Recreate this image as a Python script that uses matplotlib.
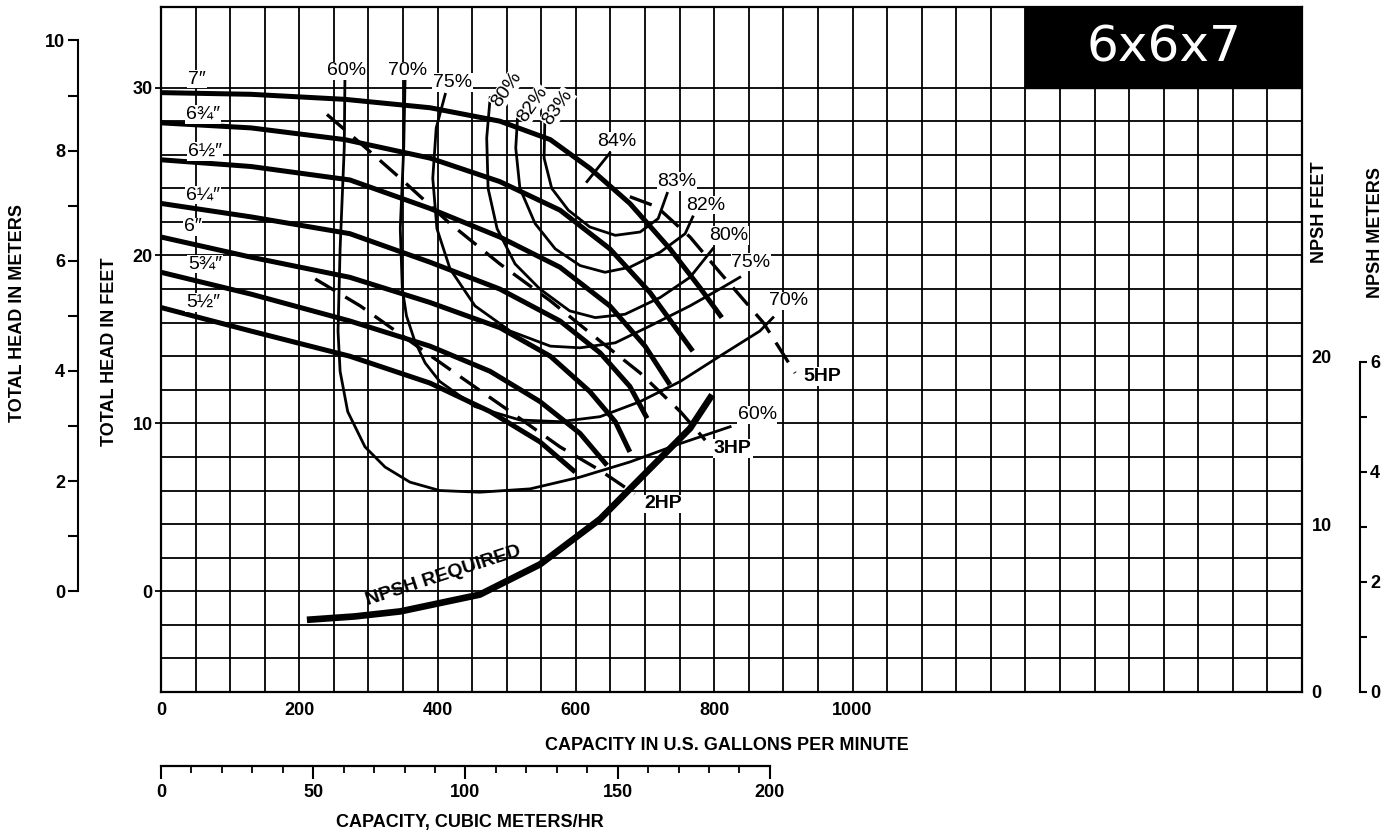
import numpy as np
import matplotlib
matplotlib.use("Agg")
import matplotlib.pyplot as plt
from matplotlib.patches import Rectangle

plt.rcParams['font.family'] = ['Liberation Sans', 'DejaVu Sans']

GPM_TO_M3H = 0.227125
FT_PER_M = 3.2808
X_MAX = 1650
Y_MIN, Y_MAX = -6, 34.8

# impeller head curves: capacity (gpm) / total head (ft)
q_700 = [0, 130, 266, 389, 490, 563, 620, 678, 736, 779, 811]
h_700 = [29.7, 29.6, 29.3, 28.8, 28.0, 26.9, 25.2, 23.1, 20.4, 18.1, 16.3]
q_675 = [0, 130, 266, 389, 490, 577, 649, 707, 769]
h_675 = [27.9, 27.6, 26.9, 25.8, 24.4, 22.7, 20.4, 17.8, 14.3]
q_650 = [0, 130, 273, 389, 490, 577, 649, 700, 736]
h_650 = [25.7, 25.3, 24.5, 22.8, 21.1, 19.3, 17.0, 14.6, 12.3]
q_625 = [0, 130, 273, 389, 490, 577, 635, 678, 703]
h_625 = [23.1, 22.3, 21.3, 19.6, 18.0, 16.1, 14.2, 12.2, 10.3]
q_600 = [0, 130, 273, 389, 490, 563, 620, 657, 678]
h_600 = [21.1, 19.9, 18.7, 17.2, 15.7, 14.0, 11.9, 10.1, 8.3]
q_575 = [0, 130, 273, 389, 476, 548, 606, 645]
h_575 = [19.0, 17.7, 16.1, 14.6, 13.1, 11.3, 9.4, 7.5]
q_550 = [0, 130, 273, 389, 476, 548, 599]
h_550 = [16.9, 15.5, 14.0, 12.4, 10.7, 8.9, 7.1]
imp_labels = ['7″', '6¾″', '6½″', '6¼″', '6″', '5¾″', '5½″']
imp_label_q = [52, 61, 64, 61, 46, 64, 61]
imp_label_h = [30.5, 28.4, 26.2, 23.6, 21.7, 19.5, 17.2]

# efficiency curves
e60_q = [266, 265, 259, 256, 259, 270, 295, 324, 360, 403, 461, 534, 606, 678, 751, 823]
e60_h = [30.6, 26.4, 20.4, 15.5, 13.1, 10.7, 8.6, 7.4, 6.5, 6.0, 5.9, 6.1, 6.8, 7.7, 8.8, 9.8]
e70_q = [353, 351, 346, 349, 355, 367, 382, 403, 454, 519, 577, 635, 693, 751, 808, 866, 885]
e70_h = [30.6, 26.4, 21.6, 18.0, 16.4, 14.9, 13.6, 12.5, 11.0, 10.2, 10.1, 10.4, 11.3, 12.5, 14.0, 15.5, 16.3]
e75_q = [411, 398, 393, 399, 418, 454, 505, 563, 606, 657, 707, 765, 808, 837]
e75_h = [29.6, 27.6, 24.6, 21.6, 19.2, 17.0, 15.5, 14.6, 14.5, 14.8, 15.8, 17.0, 18.0, 18.7]
e80_q = [476, 471, 473, 486, 512, 548, 591, 628, 671, 722, 765, 798]
e80_h = [29.4, 27.0, 24.0, 21.6, 19.5, 18.0, 16.7, 16.3, 16.5, 17.5, 18.7, 20.4]
e82_q = [516, 513, 519, 541, 570, 606, 642, 678, 722, 758, 769]
e82_h = [28.5, 26.4, 24.0, 21.9, 20.4, 19.4, 19.0, 19.3, 20.2, 21.3, 22.3]
e83_q = [555, 554, 565, 589, 620, 657, 693, 719, 732]
e83_h = [27.9, 25.8, 24.0, 22.7, 21.7, 21.2, 21.4, 22.2, 23.7]
e84_leader_q = [649, 616]
e84_leader_h = [26.1, 24.4]

# constant power lines
hp2_q = [223, 288, 360, 432, 505, 577, 635, 685]
hp2_h = [18.6, 17.0, 14.9, 12.8, 10.7, 8.6, 7.2, 5.8]
hp3_q = [240, 288, 346, 418, 490, 563, 635, 693, 751, 787]
hp3_h = [28.4, 26.7, 24.6, 21.9, 19.5, 17.3, 14.9, 13.0, 10.7, 9.0]
hp5_q = [678, 717, 765, 808, 871, 917]
hp5_h = [23.5, 22.9, 21.1, 19.0, 16.0, 13.0]

# NPSH required (NPSH feet)
npsh_q = [211, 280, 346, 461, 548, 635, 707, 765, 797]
npsh_ft = [4.3, 4.5, 4.8, 5.8, 7.6, 10.3, 13.3, 15.7, 17.7]

# labels: text, gpm, ft, rotation
eff_labels = [
    ('60%', 269, 31.0, 0), ('70%', 357, 31.0, 0), ('75%', 422, 30.3, 0),
    ('80%', 500, 29.9, 55), ('82%', 538, 29.0, 55), ('83%', 574, 28.8, 55),
    ('84%', 659, 26.8, 0), ('83%', 746, 24.4, 0), ('82%', 787, 23.0, 0),
    ('80%', 821, 21.2, 0), ('75%', 853, 19.6, 0), ('70%', 907, 17.3, 0),
    ('60%', 862, 10.5, 0),
]
hp_labels = [('5HP', 956, 12.8), ('3HP', 827, 8.5), ('2HP', 726, 5.2)]

fig = plt.figure(figsize=(14, 8.34), dpi=100)
ax = fig.add_axes([161 / 1400, 142 / 834, 1141 / 1400, 685 / 834])
ax.set_xlim(0, X_MAX)
ax.set_ylim(Y_MIN, Y_MAX)

for q in np.arange(50, X_MAX, 50):
    ax.axvline(q, color='black', lw=1.3, zorder=1)
for h in np.arange(-4, 31, 2):
    ax.axhline(h, color='black', lw=1.3, zorder=1)
for s in ax.spines.values():
    s.set_linewidth(1.6)

ax.set_xticks([0, 200, 400, 600, 800, 1000])
ax.set_yticks([0, 10, 20, 30])
ax.tick_params(axis='x', length=0, pad=7, labelsize=13)
ax.tick_params(axis='y', length=4, width=1.3, pad=2, labelsize=13)
for t in ax.get_xticklabels() + ax.get_yticklabels():
    t.set_fontweight('bold')

# curves
for q, h in [(q_700, h_700), (q_675, h_675), (q_650, h_650), (q_625, h_625),
             (q_600, h_600), (q_575, h_575), (q_550, h_550)]:
    ax.plot(q, h, color='black', lw=3.6, solid_capstyle='butt', zorder=3)
for q, h in [(e60_q, e60_h), (e70_q, e70_h), (e75_q, e75_h), (e80_q, e80_h),
             (e82_q, e82_h), (e83_q, e83_h), (e84_leader_q, e84_leader_h)]:
    ax.plot(q, h, color='black', lw=2.0, zorder=3)
for q, h in [(hp2_q, hp2_h), (hp3_q, hp3_h), (hp5_q, hp5_h)]:
    ax.plot(q, h, color='black', lw=2.4, dashes=(7, 3.5), zorder=3)

lbl_box = dict(facecolor='white', edgecolor='none', pad=0.5)
for txt, q, h in zip(imp_labels, imp_label_q, imp_label_h):
    ax.text(q, h, txt, fontsize=14, ha='center', va='center', bbox=lbl_box, zorder=5)
for txt, q, h, rot in eff_labels:
    ax.text(q, h, txt, fontsize=14, ha='center', va='center', rotation=rot,
            bbox=lbl_box, zorder=5)
for txt, q, h in hp_labels:
    ax.text(q, h, txt, fontsize=14, fontweight='bold', ha='center', va='center',
            bbox=lbl_box, zorder=5)
ax.text(408, 0.9, 'NPSH REQUIRED', fontsize=14, fontweight='bold', rotation=18,
        ha='center', va='center', zorder=5)

# title block
ax.add_patch(Rectangle((1250, 30), X_MAX - 1250, Y_MAX - 30, facecolor='black',
                       edgecolor='black', zorder=6))
ax.text(1450, 32.4, '6x6x7', color='white', fontsize=36, ha='center', va='center',
        family=['DejaVu Sans'], zorder=7)

# left: head in meters
axm = ax.twinx()
axm.set_ylim(Y_MIN / FT_PER_M, Y_MAX / FT_PER_M)
axm.yaxis.set_ticks_position('left')
for k in ['right', 'top', 'bottom']:
    axm.spines[k].set_visible(False)
axm.spines['left'].set_position(('outward', 60))
axm.spines['left'].set_bounds(0, 10)
axm.spines['left'].set_linewidth(1.5)
axm.set_yticks([0, 2, 4, 6, 8, 10])
axm.set_yticks([1, 3, 5, 7, 9], minor=True)
axm.tick_params(axis='y', which='both', length=7, width=1.5, pad=2, labelsize=13)
for t in axm.get_yticklabels():
    t.set_fontweight('bold')

# right: NPSH feet
axn = ax.twinx()
axn.set_ylim(0, Y_MAX - Y_MIN)
for s in axn.spines.values():
    s.set_visible(False)
axn.set_yticks([0, 10, 20])
axn.tick_params(axis='y', length=0, pad=7, labelsize=13)
for t in axn.get_yticklabels():
    t.set_fontweight('bold')
axn.plot(npsh_q, npsh_ft, color='black', lw=4.8, solid_capstyle='butt', zorder=4)

# right: NPSH meters
axnm = ax.twinx()
axnm.set_ylim(0, (Y_MAX - Y_MIN) / FT_PER_M)
for k in ['left', 'top', 'bottom']:
    axnm.spines[k].set_visible(False)
axnm.spines['right'].set_position(('outward', 42))
axnm.spines['right'].set_bounds(0, 6)
axnm.spines['right'].set_linewidth(1.5)
axnm.set_yticks([0, 2, 4, 6])
axnm.set_yticks([1, 3, 5], minor=True)
axnm.tick_params(axis='y', which='both', length=5, width=1.5, pad=2, labelsize=13)
for t in axnm.get_yticklabels():
    t.set_fontweight('bold')

# bottom: cubic meters per hour
axq = ax.twiny()
axq.set_xlim(0, X_MAX * GPM_TO_M3H)
axq.xaxis.set_ticks_position('bottom')
for k in ['left', 'right', 'top']:
    axq.spines[k].set_visible(False)
axq.spines['bottom'].set_position(('outward', 53))
axq.spines['bottom'].set_bounds(0, 200)
axq.spines['bottom'].set_linewidth(1.6)
axq.set_xticks([0, 50, 100, 150, 200])
axq.set_xticks(np.arange(10, 200, 10), minor=True)
axq.tick_params(axis='x', which='major', length=9, width=1.5, pad=4, labelsize=13)
axq.tick_params(axis='x', which='minor', length=5, width=1.3)
for t in axq.get_xticklabels():
    t.set_fontweight('bold')

lab = dict(fontsize=13, fontweight='bold', ha='center', va='center')
fig.text(18 / 1400, 1 - 313 / 834, 'TOTAL HEAD IN METERS', rotation=90, **lab)
fig.text(110 / 1400, 1 - 352 / 834, 'TOTAL HEAD IN FEET', rotation=90, **lab)
fig.text(1320 / 1400, 1 - 212 / 834, 'NPSH FEET', rotation=90, **lab)
fig.text(1375 / 1400, 1 - 233 / 834, 'NPSH METERS', rotation=90, **lab)
fig.text(727 / 1400, 1 - 745 / 834, 'CAPACITY IN U.S. GALLONS PER MINUTE', **lab)
fig.text(470 / 1400, 1 - 822 / 834, 'CAPACITY, CUBIC METERS/HR', **lab)

fig.savefig('out.png', dpi=100, facecolor='white')
